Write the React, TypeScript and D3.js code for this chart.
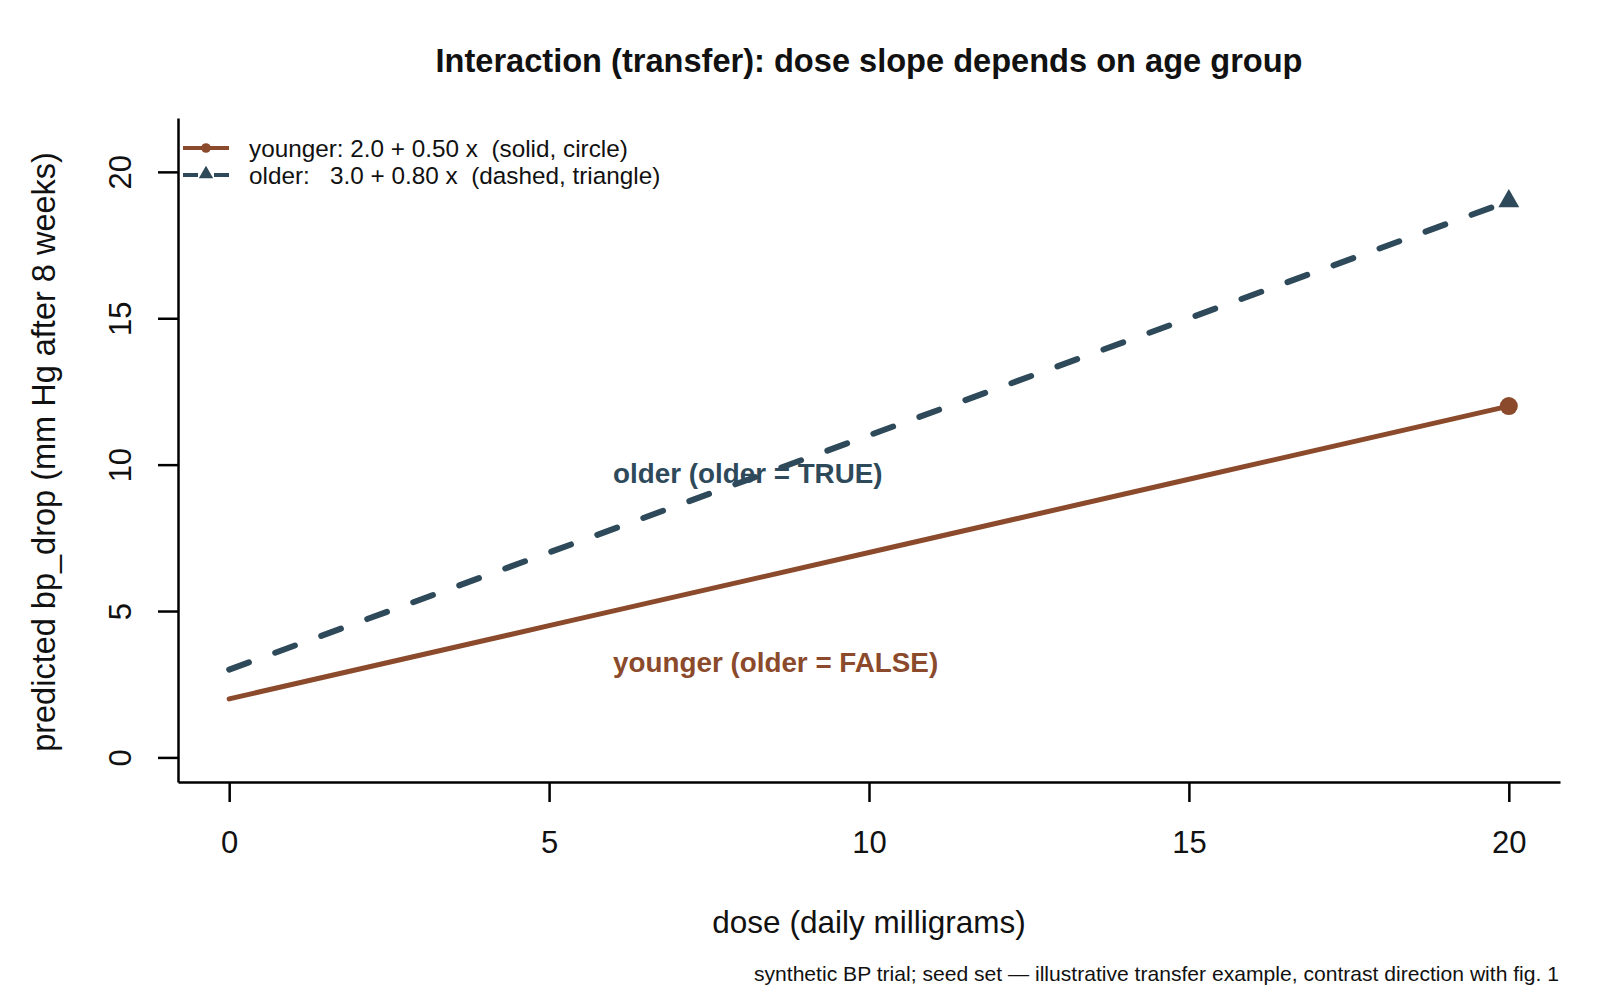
import * as d3 from 'd3'
import { useEffect, useRef } from 'react'

const doses = [0, 5, 10, 15, 20]
const youngerDrop = [2, 4.5, 7, 9.5, 12]
const olderDrop = [3, 7, 11, 15, 19]
const xTicks = [0, 5, 10, 15, 20]
const yTicks = [0, 5, 10, 15, 20]
const legendLabels = ['younger: 2.0 + 0.50 x  (solid, circle)', 'older:   3.0 + 0.80 x  (dashed, triangle)']
const groupLabels = ['younger (older = FALSE)', 'older (older = TRUE)']
const labelX = [6, 6]
const labelY = [3.25, 9.7]

const BROWN = '#8B4A2B'
const SLATE = '#2E4A5A'
const FONT = '"Liberation Sans", Arial, Helvetica, sans-serif'

export default function App() {
    const svgRef = useRef<SVGSVGElement>(null)

    useEffect(() => {
        makeChart(svgRef)
    }, [])

    function makeChart(svgRef: React.RefObject<SVGSVGElement>) {
        const width = 1600
        const height = 1000
        const left = 178
        const right = 1560
        const top = 118
        const bottom = 782

        const svg = d3.select(svgRef.current).attr('width', width).attr('height', height)
        svg.selectAll('*').remove()
        svg.append('rect').attr('width', width).attr('height', height).attr('fill', 'white')

        // R style: limits widened by 4% on each side
        const xScale = d3.scaleLinear().domain([-0.8, 20.8]).range([left, right])
        const yScale = d3.scaleLinear().domain([-0.84, 21.84]).range([bottom, top])

        const bottomAxis = d3.axisBottom(xScale).tickValues(xTicks).tickSize(20).tickSizeOuter(0).tickPadding(0)
        const gx = svg.append('g').attr('transform', `translate(0, ${bottom})`).call(bottomAxis)
        gx.selectAll('text').attr('y', 71).attr('dy', 0)
            .attr('font-size', 31).attr('font-family', FONT).attr('fill', '#111')

        const leftAxis = d3.axisLeft(yScale).tickValues(yTicks).tickSize(20).tickSizeOuter(0)
        const gy = svg.append('g').attr('transform', `translate(${left}, 0)`).call(leftAxis)
        gy.selectAll('text').attr('x', 0).attr('dy', 0).attr('text-anchor', 'middle')
            .attr('transform', 'translate(-47, 0) rotate(-90)')
            .attr('font-size', 31).attr('font-family', FONT).attr('fill', '#111')

        svg.selectAll('.domain, .tick line').attr('stroke', '#000').attr('stroke-width', 2.5)

        const line = d3.line<number>().x((_, i) => xScale(doses[i])).y(d => yScale(d))

        svg.append('path').datum(youngerDrop).attr('d', line).attr('fill', 'none')
            .attr('stroke', BROWN).attr('stroke-width', 5).attr('stroke-linecap', 'round')

        svg.append('path').datum(olderDrop).attr('d', line).attr('fill', 'none')
            .attr('stroke', SLATE).attr('stroke-width', 6).attr('stroke-linecap', 'round')
            .attr('stroke-dasharray', '21 28')

        const last = doses.length - 1
        svg.append('circle').attr('cx', xScale(doses[last])).attr('cy', yScale(youngerDrop[last]))
            .attr('r', 9).attr('fill', BROWN)
        svg.append('path').attr('d', d3.symbol(d3.symbolTriangle, 190)())
            .attr('transform', `translate(${xScale(doses[last])}, ${yScale(olderDrop[last])})`)
            .attr('fill', SLATE)

        // group labels inside the plot
        const labelColors = [BROWN, SLATE]
        svg.append('g').selectAll('text').data(groupLabels).enter().append('text')
            .attr('x', (_, i) => xScale(labelX[i]))
            .attr('y', (_, i) => yScale(labelY[i]) + 9.5)
            .attr('fill', (_, i) => labelColors[i])
            .attr('font-size', 27.8).attr('font-weight', 'bold').attr('font-family', FONT)
            .text(d => d)

        // legend
        const legend = svg.append('g')
        const rowY = [148, 175]
        legend.append('line').attr('x1', 183).attr('x2', 229).attr('y1', rowY[0]).attr('y2', rowY[0])
            .attr('stroke', BROWN).attr('stroke-width', 4)
        legend.append('circle').attr('cx', 206).attr('cy', rowY[0]).attr('r', 4.8).attr('fill', BROWN)
        legend.append('line').attr('x1', 183).attr('x2', 229).attr('y1', rowY[1]).attr('y2', rowY[1])
            .attr('stroke', SLATE).attr('stroke-width', 4).attr('stroke-dasharray', '15 16')
        legend.append('path').attr('d', d3.symbol(d3.symbolTriangle, 90)())
            .attr('transform', `translate(206, ${rowY[1] - 1})`).attr('fill', SLATE)
        legend.selectAll('text.leg').data(legendLabels).enter().append('text')
            .attr('class', 'leg')
            .attr('x', 249).attr('y', (_, i) => rowY[i] + 8.7)
            .attr('font-size', 24.3).attr('font-family', FONT).attr('fill', '#111')
            .style('white-space', 'pre')
            .text(d => d)

        // titles
        svg.append('text').attr('x', 869).attr('y', 72).attr('text-anchor', 'middle')
            .attr('font-size', 32.6).attr('font-weight', 'bold').attr('font-family', FONT).attr('fill', '#111')
            .text('Interaction (transfer): dose slope depends on age group')
        svg.append('text').attr('x', 869).attr('y', 933).attr('text-anchor', 'middle')
            .attr('font-size', 31.5).attr('font-family', FONT).attr('fill', '#111')
            .text('dose (daily milligrams)')
        svg.append('text').attr('text-anchor', 'middle')
            .attr('transform', 'translate(55, 452) rotate(-90)')
            .attr('font-size', 32.5).attr('font-family', FONT).attr('fill', '#111')
            .text('predicted bp_drop (mm Hg after 8 weeks)')
        svg.append('text').attr('x', 1559).attr('y', 981).attr('text-anchor', 'end')
            .attr('font-size', 21.1).attr('font-family', FONT).attr('fill', '#111')
            .text('synthetic BP trial; seed set \u2014 illustrative transfer example, contrast direction with fig. 1')
    }

    return (
        <div style={{ position: 'absolute', left: 0, top: 0 }}>
            <svg ref={svgRef} style={{ display: 'block' }}></svg>
        </div>
    )
}
